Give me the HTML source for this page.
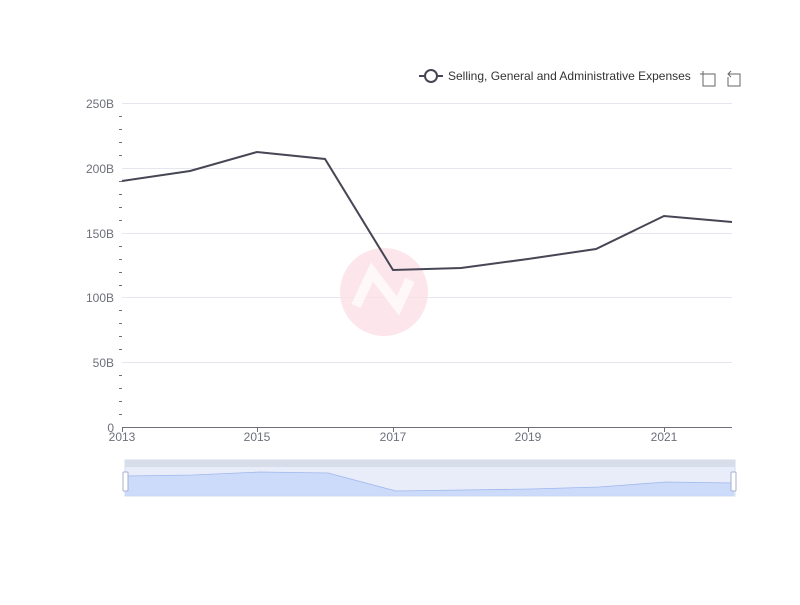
<!DOCTYPE html>
<html><head><meta charset="utf-8"><style>
body{margin:0;background:#fff;}
svg text{font-family:"Liberation Sans",sans-serif;}
</style></head><body>
<svg width="800" height="600" xmlns="http://www.w3.org/2000/svg">
<rect width="800" height="600" fill="#fff"/>
<g stroke="#e6e6f0" stroke-width="1">
<line x1="122" y1="103.5" x2="732" y2="103.5"/>
<line x1="122" y1="168.5" x2="732" y2="168.5"/>
<line x1="122" y1="233.5" x2="732" y2="233.5"/>
<line x1="122" y1="297.5" x2="732" y2="297.5"/>
<line x1="122" y1="362.5" x2="732" y2="362.5"/>
</g>
<line x1="122" y1="427.5" x2="732" y2="427.5" stroke="#6e7079"/>
<g stroke="#6e7079">
<line x1="122.5" y1="427" x2="122.5" y2="432"/>
<line x1="257.5" y1="427" x2="257.5" y2="432"/>
<line x1="393.5" y1="427" x2="393.5" y2="432"/>
<line x1="528.5" y1="427" x2="528.5" y2="432"/>
<line x1="664.5" y1="427" x2="664.5" y2="432"/>
</g>
<g stroke="#6e7079">
<line x1="119" y1="116.5" x2="122" y2="116.5"/><line x1="119" y1="129.5" x2="122" y2="129.5"/><line x1="119" y1="142.5" x2="122" y2="142.5"/><line x1="119" y1="155.5" x2="122" y2="155.5"/>
<line x1="119" y1="181.5" x2="122" y2="181.5"/><line x1="119" y1="194.5" x2="122" y2="194.5"/><line x1="119" y1="207.5" x2="122" y2="207.5"/><line x1="119" y1="220.5" x2="122" y2="220.5"/>
<line x1="119" y1="246.5" x2="122" y2="246.5"/><line x1="119" y1="259.5" x2="122" y2="259.5"/><line x1="119" y1="272.5" x2="122" y2="272.5"/><line x1="119" y1="285.5" x2="122" y2="285.5"/>
<line x1="119" y1="310.5" x2="122" y2="310.5"/><line x1="119" y1="323.5" x2="122" y2="323.5"/><line x1="119" y1="336.5" x2="122" y2="336.5"/><line x1="119" y1="349.5" x2="122" y2="349.5"/>
<line x1="119" y1="375.5" x2="122" y2="375.5"/><line x1="119" y1="388.5" x2="122" y2="388.5"/><line x1="119" y1="401.5" x2="122" y2="401.5"/><line x1="119" y1="414.5" x2="122" y2="414.5"/>
</g>
<g font-size="12" fill="#6e7079" text-anchor="end">
<text x="114" y="108">250B</text><text x="114" y="173">200B</text><text x="114" y="238">150B</text>
<text x="114" y="302">100B</text><text x="114" y="367">50B</text><text x="114" y="432">0</text>
</g>
<g font-size="12" fill="#6e7079" text-anchor="middle">
<text x="122" y="441">2013</text><text x="257" y="441">2015</text><text x="393" y="441">2017</text><text x="528" y="441">2019</text><text x="664" y="441">2021</text>
</g>
<circle cx="384" cy="292" r="44" fill="#fbe0e6" opacity="0.8"/>
<path d="M356 306 L372 272 L398 306 L410 280" stroke="#fff" stroke-width="10" fill="none" opacity="0.7"/>
<polyline fill="none" stroke="#464655" stroke-width="2" points="122,181 190,171 257,152 325,159 393,270 461,268 528,259 596,249 664,216 732,222"/>
<line x1="419" y1="76" x2="443" y2="76" stroke="#464655" stroke-width="2"/>
<circle cx="431" cy="76" r="6" fill="#fff" stroke="#464655" stroke-width="2"/>
<text x="448" y="80" font-size="12" fill="#333">Selling, General and Administrative Expenses</text>
<g stroke="#666" fill="none" stroke-width="1">
<path d="M703 74 H715 V86 H703 V77 M700 74 H706 M703 71 V77"/>
<path d="M728 74 H740 V86 H728 V77 M731 71 L728 74 L731 77"/>
</g>
<rect x="125" y="460" width="610" height="36" fill="#e8edf9" stroke="#d2dbee"/>
<rect x="125" y="460" width="610" height="7" fill="#d7dde9"/>
<path d="M125,476 L193,475 L260,472 L328,473 L396,491 L463,490 L531,489 L599,487 L666,482 L734,483 L734,496 L125,496 Z" fill="#c5d6fa" opacity="0.8"/>
<polyline fill="none" stroke="#9fb7ec" stroke-width="0.8" points="125,476 193,475 260,472 328,473 396,491 463,490 531,489 599,487 666,482 734,483"/>
<rect x="123" y="472" width="5" height="19" rx="1" fill="#fff" stroke="#a4b1d0"/>
<rect x="731" y="472" width="5" height="19" rx="1" fill="#fff" stroke="#a4b1d0"/>
</svg>
</body></html>
